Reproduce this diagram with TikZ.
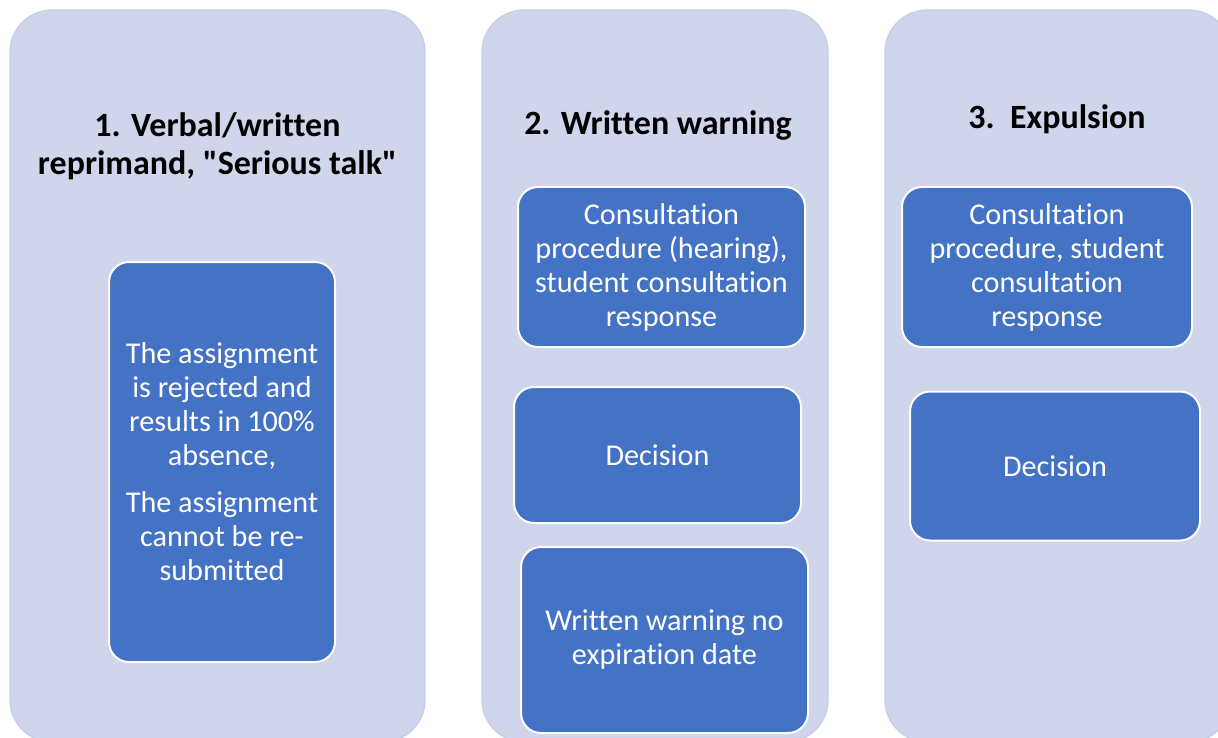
\documentclass[tikz,border=0pt]{standalone}
\usepackage{fontspec}
\setmainfont{Carlito}[Ligatures={TeX,NoCommon}]
\definecolor{lanefill}{HTML}{CFD5EA}
\definecolor{laneedge}{HTML}{C2CFEA}
\definecolor{stepblue}{HTML}{4472C4}
\begin{document}
\begin{tikzpicture}[x=1pt,y=-1pt,
    lane/.style={rectangle,fill=lanefill,draw=laneedge,line width=1.2pt,rounded corners=42pt},
    stepbox/.style={rectangle,fill=stepblue,draw=white,line width=2pt,rounded corners=20pt,
      text=white,align=center,inner sep=0pt,font=\fontsize{30.2}{34}\selectfont},
    heading/.style={align=center,font=\bfseries\fontsize{34}{38}\selectfont}]
      \useasboundingbox (0,0) rectangle (1218,738);
      % the three stages
      \foreach \x\w\n in {217.5/415/1, 655/346/2, 1058/346/3} {
        \node[lane,minimum width=\w pt,minimum height=732pt] (lane\n) at (\x,376) {};
      }
      \node[heading] (head1) at (217.5,146) {1. Verbal/written\\reprimand, \textquotedbl Serious talk\textquotedbl};
      \node[heading] (head2) at (658,125) {2. Written warning};
      \node[heading] (head3) at (1057,119) {3.\ \ Expulsion};
      % stage 1
      \node[stepbox,minimum width=226pt,minimum height=400pt] (reject) at (222,462)
        {The assignment\\is rejected and\\results in 100\%\\absence,\\[13pt]The assignment\\cannot be re-\\submitted};
      % stage 2
      \node[stepbox,minimum width=287pt,minimum height=160pt] (hearing) at (661.5,267)
        {Consultation\\procedure (hearing),\\student consultation\\response};
      \node[stepbox,minimum width=287pt,minimum height=136pt] (decision2) at (657.5,455) {Decision};
      \node[stepbox,minimum width=287pt,minimum height=186pt] (warning) at (664.5,640)
        {Written warning no\\expiration date};
      % stage 3
      \node[stepbox,minimum width=290pt,minimum height=160pt] (consult) at (1047,267)
        {Consultation\\procedure, student\\consultation\\response};
      \node[stepbox,minimum width=290pt,minimum height=149pt] (decision3) at (1055,466) {Decision};
    \end{tikzpicture}
\end{document}
